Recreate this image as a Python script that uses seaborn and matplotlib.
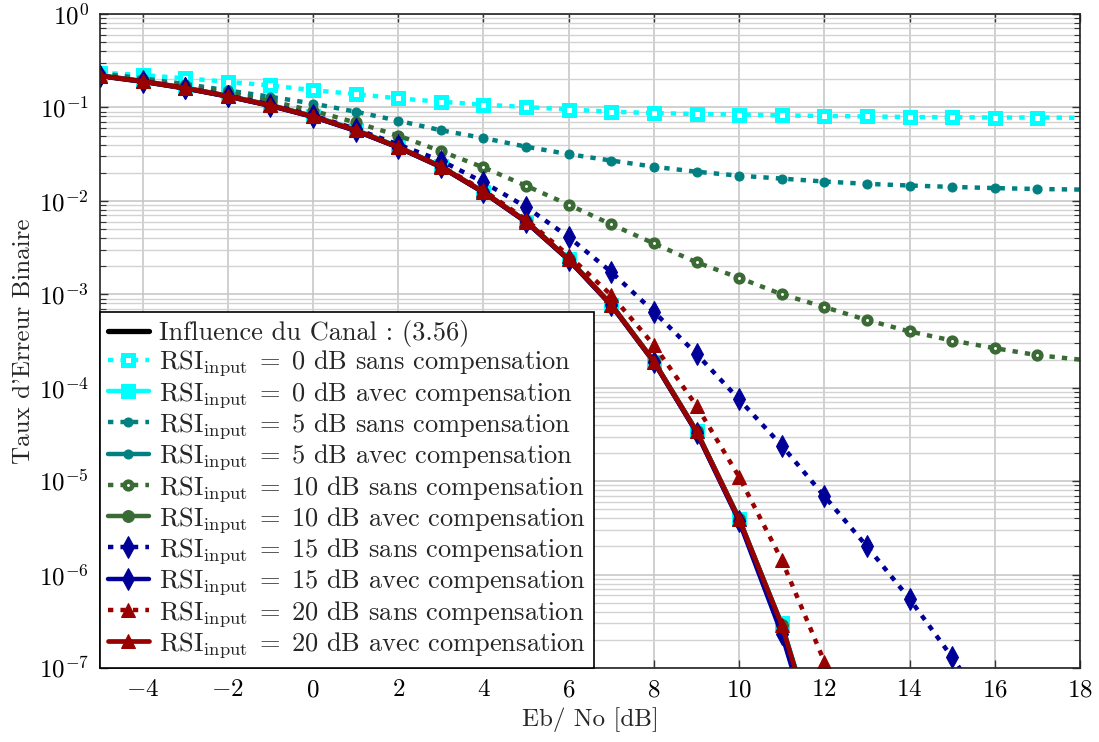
import numpy as np
import pandas as pd
import matplotlib
matplotlib.use("Agg")
import matplotlib.pyplot as plt
from matplotlib.ticker import LogLocator, MultipleLocator, NullFormatter
import seaborn as sns

# ---------------- data ----------------
x_full = [-5, -4, -3, -2, -1, 0, 1, 2, 3, 4, 5, 6, 7, 8, 9, 10, 11, 12, 13, 14, 15, 16, 17, 18]
x_short = [-5, -4, -3, -2, -1, 0, 1, 2, 3, 4, 5, 6, 7, 8, 9, 10, 11, 12]

ber_canal = [0.218, 0.19, 0.161, 0.132, 0.105, 0.080, 0.057, 0.0375, 0.0232, 0.0124,
             0.0060, 0.00235, 0.00077, 0.00019, 3.4e-5, 3.9e-6, 2.8e-7, 9e-9]

rsi0_sans = [0.236, 0.222, 0.205, 0.188, 0.172, 0.153, 0.139, 0.125, 0.115, 0.107, 0.101,
             0.095, 0.090, 0.087, 0.085, 0.084, 0.082, 0.081, 0.080, 0.079, 0.0785, 0.078,
             0.078, 0.0775]
rsi0_avec = [0.220, 0.191, 0.162, 0.133, 0.106, 0.081, 0.058, 0.038, 0.0234, 0.0125,
             0.0060, 0.00237, 0.00077, 0.00019, 3.4e-5, 3.9e-6, 3.0e-7, 1.0e-8]

rsi5_sans = [0.232, 0.205, 0.178, 0.152, 0.130, 0.110, 0.090, 0.072, 0.057, 0.047, 0.038,
             0.0316, 0.027, 0.0232, 0.0205, 0.0186, 0.0173, 0.0161, 0.0152, 0.0146, 0.0141,
             0.0137, 0.0134, 0.0132]
rsi5_avec = [0.219, 0.190, 0.161, 0.132, 0.105, 0.080, 0.057, 0.0376, 0.0233, 0.0124,
             0.0060, 0.00236, 0.00077, 0.00019, 3.4e-5, 3.9e-6, 2.9e-7, 9.5e-9]

rsi10_sans = [0.225, 0.197, 0.170, 0.143, 0.117, 0.092, 0.069, 0.050, 0.034, 0.0228, 0.0145,
              0.0091, 0.0056, 0.0035, 0.0022, 0.0015, 0.0010, 0.00073, 0.00053, 0.00040,
              0.00032, 0.000265, 0.000223, 0.000200]
rsi10_avec = [0.219, 0.190, 0.161, 0.132, 0.105, 0.080, 0.057, 0.0376, 0.0233, 0.0125,
              0.0061, 0.00238, 0.00078, 0.000192, 3.4e-5, 3.9e-6, 2.9e-7, 9.5e-9]

x_rsi15_sans = [-5, -4, -3, -2, -1, 0, 1, 2, 3, 4, 5, 6, 7, 8, 9, 10, 11, 12, 13, 14, 15, 16]
rsi15_sans = [0.219, 0.191, 0.162, 0.134, 0.107, 0.082, 0.059, 0.040, 0.0270, 0.0158,
              0.0086, 0.0041, 0.00173, 0.00065, 0.00023, 7.5e-5, 2.4e-5, 6.9e-6, 2.0e-6,
              5.5e-7, 1.3e-7, 2.8e-8]
rsi15_avec = [0.218, 0.189, 0.160, 0.131, 0.104, 0.079, 0.056, 0.0372, 0.0230, 0.0123,
              0.0059, 0.00233, 0.00076, 0.000188, 3.3e-5, 3.7e-6, 2.3e-7, 7e-9]

x_rsi20_sans = [-5, -4, -3, -2, -1, 0, 1, 2, 3, 4, 5, 6, 7, 8, 9, 10, 11, 12, 13]
rsi20_sans = [0.218, 0.190, 0.161, 0.132, 0.105, 0.080, 0.058, 0.038, 0.0236, 0.0130,
              0.0063, 0.0026, 0.00098, 0.000286, 6.4e-5, 1.11e-5, 1.43e-6, 1.17e-7, 1e-8]
rsi20_avec = [0.218, 0.190, 0.161, 0.132, 0.105, 0.080, 0.057, 0.0375, 0.0232, 0.0124,
              0.0060, 0.00236, 0.00077, 0.00019, 3.4e-5, 3.9e-6, 2.9e-7, 9e-9]

labels = [
    "Influence du Canal : (3.56)",
    r"$\mathrm{RSI}_{\mathrm{input}}\;=\;0$ dB sans compensation",
    r"$\mathrm{RSI}_{\mathrm{input}}\;=\;0$ dB avec compensation",
    r"$\mathrm{RSI}_{\mathrm{input}}\;=\;5$ dB sans compensation",
    r"$\mathrm{RSI}_{\mathrm{input}}\;=\;5$ dB avec compensation",
    r"$\mathrm{RSI}_{\mathrm{input}}\;=\;10$ dB sans compensation",
    r"$\mathrm{RSI}_{\mathrm{input}}\;=\;10$ dB avec compensation",
    r"$\mathrm{RSI}_{\mathrm{input}}\;=\;15$ dB sans compensation",
    r"$\mathrm{RSI}_{\mathrm{input}}\;=\;15$ dB avec compensation",
    r"$\mathrm{RSI}_{\mathrm{input}}\;=\;20$ dB sans compensation",
    r"$\mathrm{RSI}_{\mathrm{input}}\;=\;20$ dB avec compensation",
]
x_ticks = [-4, -2, 0, 2, 4, 6, 8, 10, 12, 14, 16, 18]

# ---------------- style ----------------
sns.set_theme(style="ticks")
plt.rcParams["font.family"] = ["cmr10", "DejaVu Serif"]
plt.rcParams["mathtext.fontset"] = "cm"
plt.rcParams["axes.formatter.use_mathtext"] = True
plt.rcParams["axes.unicode_minus"] = True

FS = 18
LFS = 19
CYAN = "#00ffff"
TEAL = "#008080"
GREEN = "#3a6b35"
BLUE = "#000099"
RED = "#990000"
DOT = (0, (1.2, 1.6))

fig = plt.figure(figsize=(10.99, 7.42), dpi=100)
ax = fig.add_axes([100 / 1099, 1 - 668 / 742, 980 / 1099, 654 / 742])
ax.set_yscale("log")

def draw(xv, yv, color, ls, lw, label, **kw):
    sns.lineplot(x=xv, y=yv, ax=ax, color=color, linestyle=ls, linewidth=lw,
                 label=label, estimator=None, sort=False, **kw)

MK = dict(markevery=slice(0, 23))

draw(x_short, ber_canal, "black", "-", 3.8, labels[0])
draw(x_full, rsi0_sans, CYAN, DOT, 3.2, labels[1], marker="s", markersize=6.5,
     markerfacecolor="white", markeredgecolor=CYAN, markeredgewidth=3.6, **MK)
draw(x_short, rsi0_avec, CYAN, "-", 3.2, labels[2], marker="s", markersize=10,
     markerfacecolor=CYAN, markeredgecolor=CYAN)
draw(x_full, rsi5_sans, TEAL, DOT, 3.2, labels[3], marker="o", markersize=6.5,
     markerfacecolor=TEAL, markeredgecolor=TEAL, **MK)
draw(x_short, rsi5_avec, TEAL, "-", 3.2, labels[4], marker="o", markersize=6.5,
     markerfacecolor=TEAL, markeredgecolor=TEAL)
draw(x_full, rsi10_sans, GREEN, DOT, 3.2, labels[5], marker="o", markersize=5.5,
     markerfacecolor="white", markeredgecolor=GREEN, markeredgewidth=3.3, **MK)
draw(x_short, rsi10_avec, GREEN, "-", 3.2, labels[6], marker="o", markersize=8.5,
     markerfacecolor=GREEN, markeredgecolor=GREEN)
draw(x_rsi15_sans, rsi15_sans, BLUE, DOT, 3.2, labels[7], marker="d", markersize=11,
     markerfacecolor=BLUE, markeredgecolor=BLUE)
draw(x_short, rsi15_avec, BLUE, "-", 3.2, labels[8], marker="d", markersize=11,
     markerfacecolor=BLUE, markeredgecolor=BLUE)
draw(x_rsi20_sans, rsi20_sans, RED, DOT, 3.2, labels[9], marker="^", markersize=10,
     markerfacecolor=RED, markeredgecolor=RED)
draw(x_short, rsi20_avec, RED, "-", 3.4, labels[10], marker="^", markersize=10,
     markerfacecolor=RED, markeredgecolor=RED)

# ---------------- axes ----------------
ax.set_xlim(-5, 18)
ax.set_ylim(1e-7, 1)
ax.set_xticks(x_ticks)
ax.yaxis.set_major_locator(LogLocator(base=10, numticks=20))
ax.yaxis.set_minor_locator(LogLocator(base=10, subs=np.arange(2, 10), numticks=100))
ax.yaxis.set_minor_formatter(NullFormatter())

ax.grid(True, which="major", axis="both", color="#c4c4c4", linewidth=1.1)
ax.grid(True, which="minor", axis="y", color="#d2d2d2", linewidth=1.0)
ax.set_axisbelow(True)

ax.tick_params(which="both", direction="in", top=True, right=True, colors="#333333",
               labelcolor="black", labelsize=FS)
ax.tick_params(which="major", length=6, width=1)
ax.tick_params(which="minor", length=4, width=0.8)
ax.tick_params(axis="x", pad=8)
ax.tick_params(axis="y", pad=8)
for s in ax.spines.values():
    s.set_color("#222222")
    s.set_linewidth(1.2)

ax.set_xlabel("Eb/ No [dB]", fontsize=FS, labelpad=4)
ax.set_ylabel("Taux d'Erreur Binaire", fontsize=FS, labelpad=3)

leg = ax.legend(loc="lower left", fontsize=LFS, frameon=True, fancybox=False,
                edgecolor="black", framealpha=1, borderaxespad=0, borderpad=0.3,
                handlelength=1.55, handletextpad=0.4, labelspacing=0.05, numpoints=1)
leg.get_frame().set_linewidth(1.2)

fig.savefig("out.png", dpi=100)
